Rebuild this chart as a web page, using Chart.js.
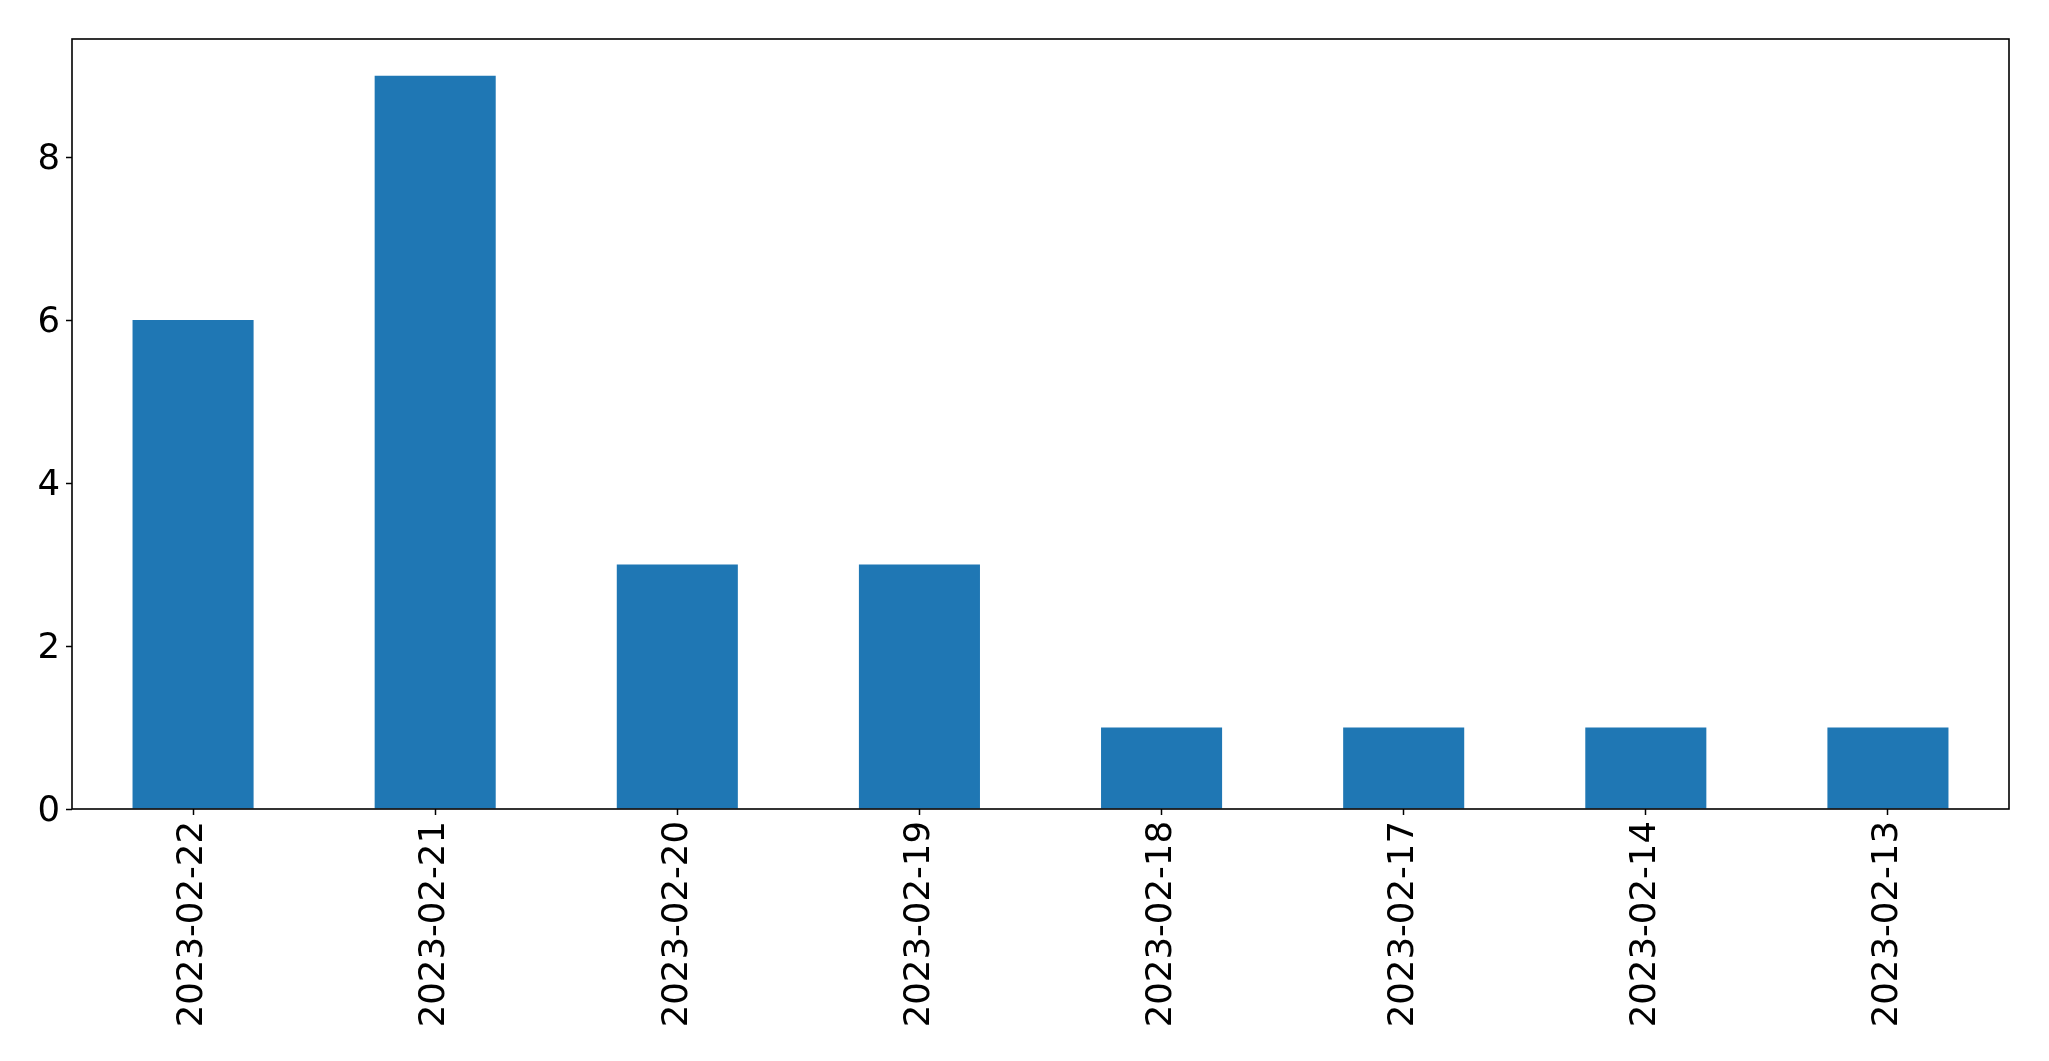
<!DOCTYPE html>
<html>
<head>
<meta charset="utf-8">
<script src="https://cdn.jsdelivr.net/npm/chart.js@4"></script>
<style>
html,body{margin:0;padding:0;background:#fff;}
canvas{display:block;}
</style>
</head>
<body>
<canvas id="c" width="2049" height="1061"></canvas>
<script>
const categories = ["2023-02-22","2023-02-21","2023-02-20","2023-02-19","2023-02-18","2023-02-17","2023-02-14","2023-02-13"];
const counts = [6, 9, 3, 3, 1, 1, 1, 1];
const yTicks = [0, 2, 4, 6, 8];
const yMax = 9.45;

const frame = {
  id: 'frame',
  afterDraw(chart) {
    const a = chart.chartArea, ctx = chart.ctx;
    ctx.save();
    ctx.strokeStyle = '#000';
    ctx.lineWidth = 1.6;
    ctx.strokeRect(a.left, a.top, a.right - a.left, a.bottom - a.top);
    ctx.restore();
  }
};

new Chart(document.getElementById('c'), {
  type: 'bar',
  data: {
    labels: categories,
    datasets: [{ data: counts, backgroundColor: '#1f77b4', borderWidth: 0, barPercentage: 0.5, categoryPercentage: 1.0 }]
  },
  options: {
    responsive: false,
    animation: false,
    devicePixelRatio: 1,
    layout: { padding: { top: 39, right: 40, left: 0, bottom: 0 } },
    plugins: { legend: { display: false }, tooltip: { enabled: false } },
    scales: {
      x: {
        grid: { display: true, offset: false, drawOnChartArea: false, tickLength: 6, tickColor: '#000', tickWidth: 1.5 },
        border: { display: false },
        ticks: { color: '#000', font: { family: 'DejaVu Sans', size: 35.5 }, minRotation: 90, maxRotation: 90, padding: 6, autoSkip: false },
        afterFit(s) { s.height = 252; }
      },
      y: {
        min: 0, max: yMax,
        grid: { display: true, drawOnChartArea: false, tickLength: 6, tickColor: '#000', tickWidth: 1.5 },
        border: { display: false },
        ticks: { color: '#000', font: { family: 'DejaVu Sans', size: 35.5 }, padding: 6, labelOffset: 3 },
        afterBuildTicks(s) { s.ticks = yTicks.map(v => ({ value: v })); },
        afterFit(s) { s.width = 72; }
      }
    }
  },
  plugins: [frame]
});
</script>
</body>
</html>
